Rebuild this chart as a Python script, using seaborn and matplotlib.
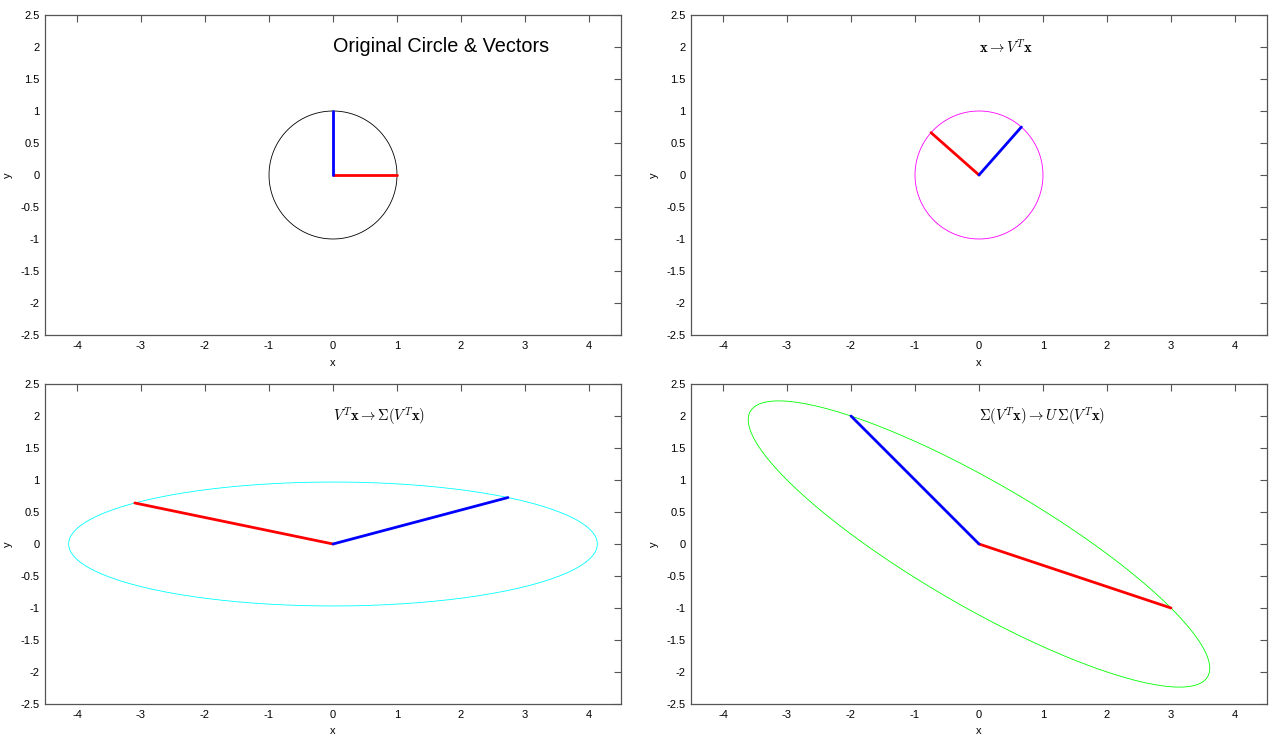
import numpy as np
import pandas as pd
import matplotlib
matplotlib.use("Agg")
import matplotlib.pyplot as plt
import seaborn as sns

# ---- data ----
# final images of e1 (red) and e2 (blue) -> columns of the matrix A
red_final = [3.0, -1.0]
blue_final = [-2.0, 2.0]
n_circle = 200

x_ticks = [-4, -3, -2, -1, 0, 1, 2, 3, 4]
y_ticks = [-2.5, -2, -1.5, -1, -0.5, 0, 0.5, 1, 1.5, 2, 2.5]
panel_titles = [
    "Original Circle & Vectors",
    r"$\mathbf{x} \rightarrow V^T\mathbf{x}$",
    r"$V^T\mathbf{x} \rightarrow \Sigma(V^T\mathbf{x})$",
    r"$\Sigma(V^T\mathbf{x}) \rightarrow U\,\Sigma(V^T\mathbf{x})$",
]
curve_colors = ["black", "#ff00ff", "#00ffff", "#00ff00"]

# ---- SVD of A ----
A = np.column_stack([red_final, blue_final])
U, S, Vt = np.linalg.svd(A)
if Vt[0, 0] > 0:
    Vt[0, :] *= -1
    U[:, 0] *= -1
if Vt[1, 1] < 0:
    Vt[1, :] *= -1
    U[:, 1] *= -1
Sig = np.diag(S)

t = np.linspace(0, 2 * np.pi, n_circle)
circ = np.vstack([np.cos(t), np.sin(t)])
E = np.eye(2)
stages = [np.eye(2), Vt, Sig @ Vt, U @ Sig @ Vt]

sns.set_style("white")
plt.rcParams["font.family"] = ["Liberation Sans", "DejaVu Sans"]
plt.rcParams["mathtext.fontset"] = "cm"

fig = plt.figure(figsize=(12.7, 7.35), dpi=100)
lefts = [45 / 1270, 691 / 1270]
bottoms = [1 - 335 / 735, 1 - 704 / 735]
w, h = 576 / 1270, 320 / 735
pos = [(lefts[0], bottoms[0]), (lefts[1], bottoms[0]), (lefts[0], bottoms[1]), (lefts[1], bottoms[1])]

axis_gray = "#555555"
for i, M in enumerate(stages):
    ax = fig.add_axes([pos[i][0], pos[i][1], w, h])
    pts = M @ circ
    df_c = pd.DataFrame({"x": pts[0], "y": pts[1], "o": np.arange(n_circle)})
    sns.lineplot(data=df_c, x="x", y="y", sort=False, estimator=None,
                 color=curve_colors[i], linewidth=0.6, ax=ax)
    r = M @ E[:, 0]
    b = M @ E[:, 1]
    df_r = pd.DataFrame({"x": [0, r[0]], "y": [0, r[1]]})
    df_b = pd.DataFrame({"x": [0, b[0]], "y": [0, b[1]]})
    sns.lineplot(data=df_r, x="x", y="y", sort=False, estimator=None,
                 color="#ff0000", linewidth=2.0, ax=ax)
    sns.lineplot(data=df_b, x="x", y="y", sort=False, estimator=None,
                 color="#0000ff", linewidth=2.0, ax=ax)
    ax.set_xlim(-4.5, 4.5)
    ax.set_ylim(-2.5, 2.5)
    ax.set_xticks(x_ticks)
    ax.set_yticks(y_ticks)
    ax.set_xticklabels([f"{v:g}" for v in x_ticks])
    ax.set_yticklabels([f"{v:g}" for v in y_ticks])
    ax.tick_params(direction="in", length=5, width=0.8, color=axis_gray,
                   labelsize=8, labelcolor="black", top=True, right=True, pad=4)
    for s in ax.spines.values():
        s.set_color(axis_gray)
        s.set_linewidth(0.9)
        s.set_visible(True)
    ax.set_xlabel("x", fontsize=8, labelpad=5, color="black")
    ax.set_ylabel("y", fontsize=8, labelpad=5, color="black")
    if i == 0:
        ax.text(0, 2.0, panel_titles[i], fontsize=14.3, ha="left", va="center",
                color="black")
    else:
        ax.text(0, 2.0, panel_titles[i], fontsize=10.5, ha="left", va="center",
                color="black")

fig.savefig("out.png", dpi=100)
